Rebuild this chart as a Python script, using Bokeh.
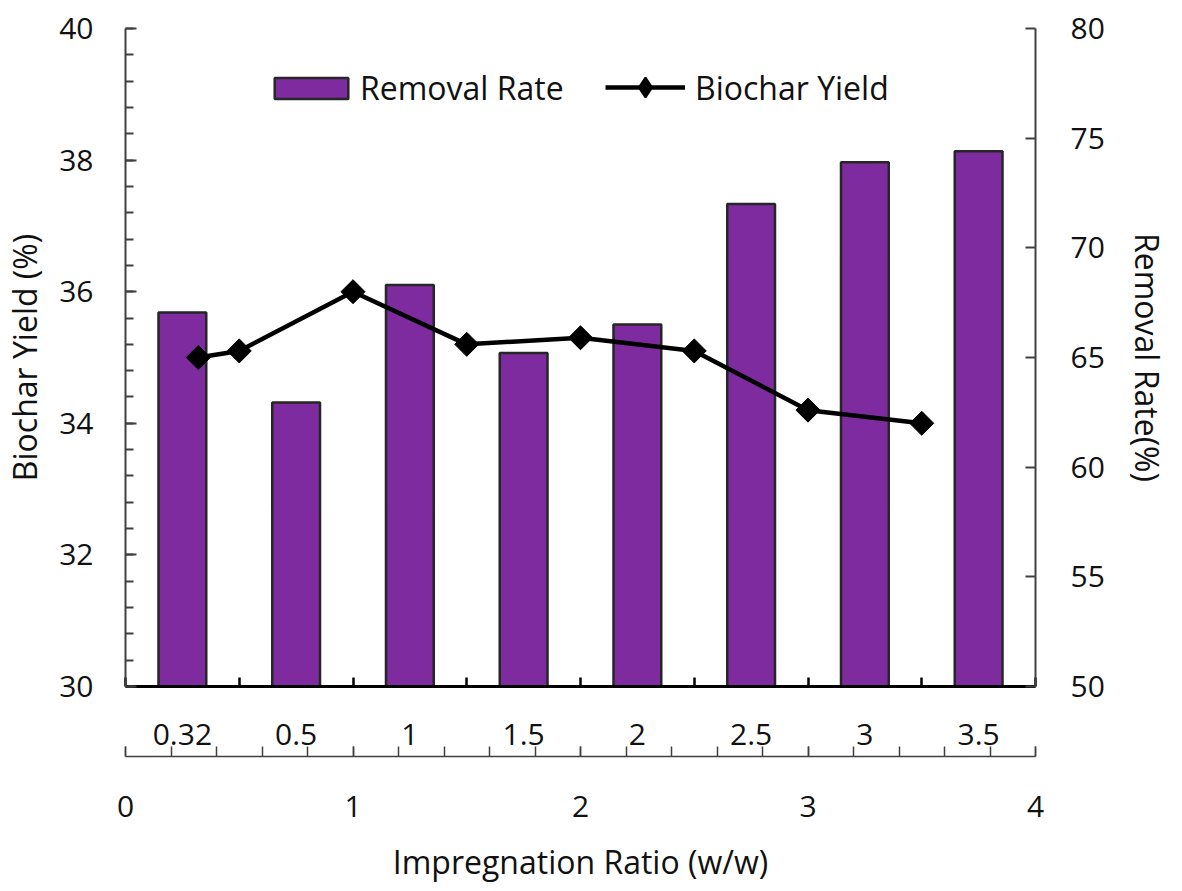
import numpy as np
from bokeh.plotting import figure
from bokeh.models import (Range1d, LinearAxis, SingleIntervalTicker, FixedTicker,
                          Legend, LegendItem)
from bokeh.embed import file_html
from bokeh.resources import INLINE

# ---- data ----
categories = ["0.32", "0.5", "1", "1.5", "2", "2.5", "3", "3.5"]
ratio = [0.32, 0.5, 1, 1.5, 2, 2.5, 3, 3.5]
removal_rate = [67.05, 62.95, 68.3, 65.2, 66.5, 72.0, 73.9, 74.4]
biochar_yield = [35.0, 35.1, 36.0, 35.2, 35.3, 35.1, 34.2, 34.0]

X_MAX = 4.0
n_cat = len(categories)
cat_w = X_MAX / n_cat
cat_centers = [(i + 0.5) * cat_w for i in range(n_cat)]
cat_edges = [i * cat_w for i in range(n_cat + 1)]

RR_MIN, RR_MAX = 50, 80

FONT = "Open Sans"
TXT = "#111111"
PURPLE = "#7E2BA0"
FRAME_W, FRAME_H = 910, 658

p = figure(x_range=Range1d(0, X_MAX), y_range=Range1d(30, 40),
           frame_width=FRAME_W, frame_height=FRAME_H,
           min_border_left=120, min_border_right=136, min_border_top=28, min_border_bottom=200,
           x_axis_type=None, y_axis_type=None,
           output_backend="svg", toolbar_location=None)
p.outline_line_color = None
p.background_fill_color = "white"
p.border_fill_color = "white"

p.extra_y_ranges = {"rr": Range1d(RR_MIN, RR_MAX)}

bars = p.vbar(x=cat_centers, top=removal_rate, bottom=RR_MIN, width=0.42 * cat_w, y_range_name="rr",
              fill_color=PURPLE, line_color="#262626", line_width=2.5)
ln = p.line(ratio, biochar_yield, line_width=4.5, line_color="black")
# diamond marker (used for the legend glyph), hidden under the rotated squares
mk_leg = p.scatter(ratio, biochar_yield, marker="diamond", size=20,
                   fill_color="black", line_color="black", line_width=2)
mk = p.scatter(ratio, biochar_yield, marker="square", angle=np.pi / 4,
               size=17, fill_color="black", line_color="black")

def style_labels(ax, size="30px", title_size="32px"):
    ax.major_label_text_font = FONT
    ax.major_label_text_font_size = size
    ax.major_label_text_color = TXT
    ax.axis_label_text_font = FONT
    ax.axis_label_text_font_size = title_size
    ax.axis_label_text_font_style = "normal"
    ax.axis_label_text_color = TXT

# left axis
left = LinearAxis(ticker=SingleIntervalTicker(interval=2, num_minor_ticks=5),
                  axis_label="Biochar Yield (%)")
style_labels(left)
left.axis_line_width = 2
left.axis_line_color = "#404040"
left.major_tick_in = 11
left.major_tick_out = 0
left.minor_tick_in = 8
left.minor_tick_out = 0
left.major_tick_line_width = 2
left.minor_tick_line_width = 2
left.major_tick_line_color = "#404040"
left.minor_tick_line_color = "#404040"
left.major_label_standoff = 32
left.axis_label_standoff = 10
p.add_layout(left, "left")

# right axis
right = LinearAxis(y_range_name="rr", ticker=SingleIntervalTicker(interval=5, num_minor_ticks=0),
                   axis_label="Removal Rate(%)")
style_labels(right)
right.axis_line_width = 2
right.axis_line_color = "#404040"
right.major_tick_in = 10
right.major_tick_out = 0
right.major_tick_line_width = 2
right.major_tick_line_color = "#404040"
right.minor_tick_line_color = None
right.major_label_standoff = 35
right.axis_label_standoff = 18
p.add_layout(right, "right")

# bottom: category axis (labels at centres, ticks at category boundaries)
cat = LinearAxis(ticker=FixedTicker(ticks=cat_centers, minor_ticks=cat_edges),
                 major_label_overrides={c: lab for c, lab in zip(cat_centers, categories)},
                 axis_label=" ")
style_labels(cat)
cat.axis_label_text_font_size = "1px"
cat.axis_label_standoff = 5
cat.axis_line_width = 3
cat.axis_line_color = "black"
cat.major_tick_line_color = None
cat.major_tick_out = 0
cat.major_tick_in = 0
cat.minor_tick_in = 9
cat.minor_tick_out = 0
cat.minor_tick_line_width = 2.5
cat.minor_tick_line_color = "black"
cat.major_label_standoff = 37
p.add_layout(cat, "below")

# bottom: numeric ratio axis
num = LinearAxis(ticker=SingleIntervalTicker(interval=1, num_minor_ticks=5),
                 axis_label="Impregnation Ratio (w/w)")
style_labels(num)
num.axis_line_width = 1.5
num.axis_line_color = "#404040"
num.major_tick_in = 10
num.major_tick_out = 0
num.minor_tick_in = 10
num.minor_tick_out = 0
num.major_tick_line_width = 1.5
num.minor_tick_line_width = 1.5
num.major_tick_line_color = "#404040"
num.minor_tick_line_color = "#404040"
num.major_label_standoff = 39
num.axis_label_standoff = 20
p.add_layout(num, "below")

# legends
def style_legend(lg):
    lg.padding = 0
    lg.margin = 0
    lg.spacing = 0
    lg.border_line_color = None
    lg.background_fill_alpha = 0
    lg.label_text_font = FONT
    lg.label_text_font_size = "32px"
    lg.label_text_color = TXT

lg1 = Legend(items=[LegendItem(label="Removal Rate", renderers=[bars])],
             location=(140, 577), glyph_width=92, glyph_height=26, label_standoff=3)
style_legend(lg1)
lg2 = Legend(items=[LegendItem(label="Biochar Yield", renderers=[ln, mk_leg])],
             location=(480, 574), glyph_width=80, glyph_height=50, label_standoff=10)
style_legend(lg2)
p.add_layout(lg1, "center")
p.add_layout(lg2, "center")

open("out.html", "w").write(file_html(p, INLINE))
